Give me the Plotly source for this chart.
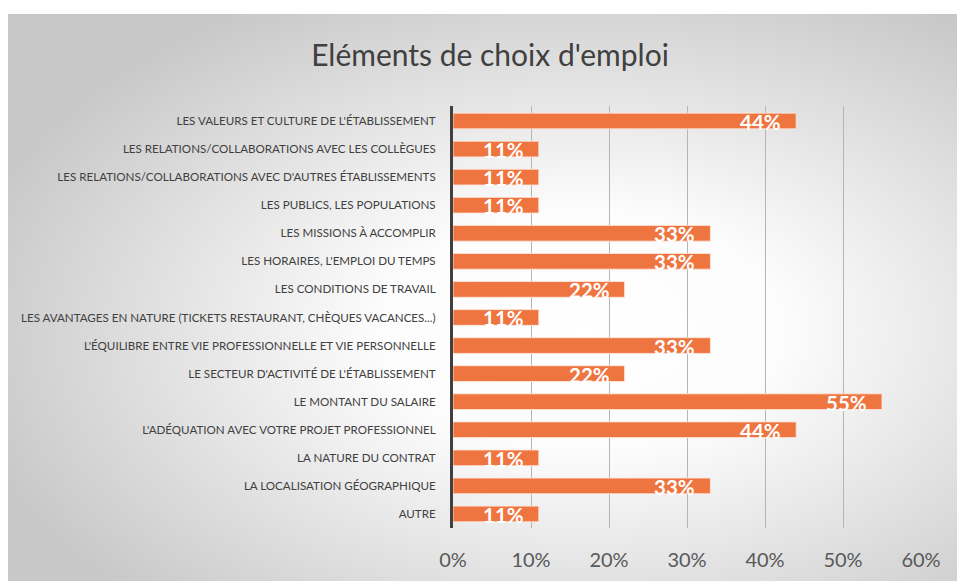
import base64
import plotly.graph_objects as go

categories = [
    "LES VALEURS ET CULTURE DE L'ÉTABLISSEMENT",
    "LES RELATIONS/COLLABORATIONS AVEC LES COLLÈGUES",
    "LES RELATIONS/COLLABORATIONS AVEC D'AUTRES ÉTABLISSEMENTS",
    "LES PUBLICS, LES POPULATIONS",
    "LES MISSIONS À ACCOMPLIR",
    "LES HORAIRES, L'EMPLOI DU TEMPS",
    "LES CONDITIONS DE TRAVAIL",
    "LES AVANTAGES EN NATURE (TICKETS RESTAURANT, CHÈQUES VACANCES...)",
    "L'ÉQUILIBRE ENTRE VIE PROFESSIONNELLE ET VIE PERSONNELLE",
    "LE SECTEUR D'ACTIVITÉ DE L'ÉTABLISSEMENT",
    "LE MONTANT DU SALAIRE",
    "L'ADÉQUATION AVEC VOTRE PROJET PROFESSIONNEL",
    "LA NATURE DU CONTRAT",
    "LA LOCALISATION GÉOGRAPHIQUE",
    "AUTRE",
]
values = [0.44, 0.11, 0.11, 0.11, 0.33, 0.33, 0.22, 0.11, 0.33, 0.22, 0.55, 0.44, 0.11, 0.33, 0.11]
tick_values = [0, 0.1, 0.2, 0.3, 0.4, 0.5, 0.6]
tick_labels = ["0%", "10%", "20%", "30%", "40%", "50%", "60%"]
title_text = "Eléments de choix d'emploi"

W, H = 957, 581
L, R, T, B = 445, 44, 98, 61
pw, ph = W - L - R, H - T - B

svg = (
    '<svg xmlns="http://www.w3.org/2000/svg" width="957" height="575" preserveAspectRatio="none" viewBox="0 0 957 575">'
    '<defs><radialGradient id="g" cx="0.6" cy="0.55" r="0.66" gradientUnits="objectBoundingBox">'
    '<stop offset="0" stop-color="#ffffff"/>'
    '<stop offset="0.32" stop-color="#fcfcfc"/>'
    '<stop offset="1" stop-color="#c8c8c8"/>'
    '</radialGradient></defs>'
    '<rect x="0" y="0" width="957" height="575" fill="url(#g)"/>'
    '</svg>'
)
src = "data:image/svg+xml;base64," + base64.b64encode(svg.encode()).decode()

fig = go.Figure()
fig.add_trace(go.Bar(
    x=values, y=categories, orientation="h",
    marker=dict(color="#EE7540", line=dict(color="rgba(255,230,220,0.85)", width=1)),
    width=0.56, hoverinfo="skip",
))

for v, c in zip(values, categories):
    fig.add_annotation(
        x=v, y=c, xref="x", yref="y", text=f"{round(v*100)}%",
        showarrow=False, xanchor="right", yanchor="middle", xshift=-13, yshift=-1,
        font=dict(family="Lato, Open Sans, sans-serif", size=20.5, color="white", weight="bold"),
    )

bx0, by0 = 0, 6
fig.add_layout_image(
    source=src, xref="paper", yref="paper",
    x=(bx0 - L) / pw, y=(H - B - by0) / ph,
    sizex=(W - bx0) / pw, sizey=(H - by0) / ph,
    xanchor="left", yanchor="top", sizing="stretch", layer="below",
)

fig.update_layout(
    width=W, height=H,
    margin=dict(l=L, r=R, t=T, b=B, pad=0, autoexpand=False),
    paper_bgcolor="white", plot_bgcolor="rgba(0,0,0,0)",
    showlegend=False,
    title=dict(text=title_text, x=482 / W, y=1 - 47 / H, xref="container", yref="container",
               xanchor="center", yanchor="middle",
               font=dict(family="Lato, Open Sans, sans-serif", size=30, color="#404040")),
    xaxis=dict(range=[0, 0.6], tickvals=tick_values, ticktext=tick_labels,
               showgrid=True, gridcolor="#B5B5B5", gridwidth=1.2, zeroline=False,
               showline=False, ticks="", ticklabelstandoff=18, automargin=False,
               tickfont=dict(family="Lato, Open Sans, sans-serif", size=20, color="#595959")),
    yaxis=dict(autorange="reversed", showgrid=False, zeroline=False, automargin=False,
               showline=True, linecolor="#404040", linewidth=3, ticks="",
               ticklabelstandoff=12,
               tickfont=dict(family="Lato, sans-serif", size=11.6, color="#404040")),
)

fig.write_html(
    "out.html",
    config={"responsive": False},
    post_script=(
        "document.documentElement.style.overflow='hidden';"
        "document.body.style.overflow='hidden';"
        "document.body.style.margin='8px 0 0 8px';"
        "document.body.style.width='957px';"
    ),
)
